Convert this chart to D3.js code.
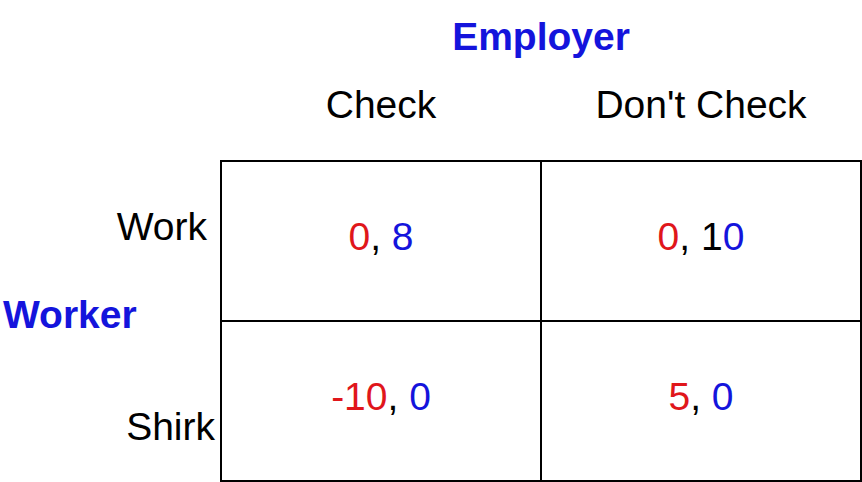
<!DOCTYPE html>
<html>
<head>
<meta charset="utf-8">
<script src="https://cdn.jsdelivr.net/npm/d3@7"></script>
<style>
  body { margin: 0; background: #fff; }
  text { font-family: "Liberation Sans", Arial, Helvetica, sans-serif; }
</style>
</head>
<body>
<script>
// data
var rowPlayer = "Worker",
    colPlayer = "Employer";
var rows = ["Work", "Shirk"];
var cols = ["Check", "Don't Check"];
var workerPay = ["0", "0", "-10", "5"];
var employerPay = ["8", "10", "0", "0"];
// how many trailing digits of the employer payoff are drawn in blue
var bluePart = ["8", "0", "0", "0"];

var width = 862,
    height = 482,
    fontSize = 39,
    red = "#e0161b",
    blue = "#1414dc";

var svg = d3.select("body").append("svg")
    .attr("width", width)
    .attr("height", height);

var x = d3.scaleBand().domain(cols).range([221, 861]);
var y = d3.scaleBand().domain(rows).range([161, 481]);

// grid
var grid = svg.append("g")
    .attr("fill", "none")
    .attr("stroke", "#000")
    .attr("stroke-width", 2);

grid.append("rect")
    .attr("x", x.range()[0])
    .attr("y", y.range()[0])
    .attr("width", x.range()[1] - x.range()[0])
    .attr("height", y.range()[1] - y.range()[0]);

grid.append("line")
    .attr("x1", x(cols[1])).attr("x2", x(cols[1]))
    .attr("y1", y.range()[0]).attr("y2", y.range()[1]);

grid.append("line")
    .attr("x1", x.range()[0]).attr("x2", x.range()[1])
    .attr("y1", y(rows[1])).attr("y2", y(rows[1]));

// player names
svg.append("text")
    .attr("x", (x.range()[0] + x.range()[1]) / 2)
    .attr("y", 50)
    .attr("text-anchor", "middle")
    .attr("font-size", fontSize)
    .attr("font-weight", "bold")
    .attr("fill", blue)
    .text(colPlayer);

svg.append("text")
    .attr("x", 3)
    .attr("y", 328)
    .attr("font-size", fontSize)
    .attr("font-weight", "bold")
    .attr("fill", blue)
    .text(rowPlayer);

// strategy labels
svg.selectAll(".col")
    .data(cols)
    .enter()
    .append("text")
    .attr("class", "col")
    .attr("x", function (d) { return x(d) + x.bandwidth() / 2; })
    .attr("y", 118)
    .attr("text-anchor", "middle")
    .attr("font-size", fontSize)
    .text(function (d) { return d; });

var rowLabelEnd = [207, 215],
    rowLabelY = [240, 440];

svg.selectAll(".row")
    .data(rows)
    .enter()
    .append("text")
    .attr("class", "row")
    .attr("x", function (d, i) { return rowLabelEnd[i]; })
    .attr("y", function (d, i) { return rowLabelY[i]; })
    .attr("text-anchor", "end")
    .attr("font-size", fontSize)
    .text(function (d) { return d; });

// payoffs
var cells = d3.range(4).map(function (i) {
    var e = employerPay[i],
        b = bluePart[i];
    return {
        row: rows[Math.floor(i / 2)],
        col: cols[i % 2],
        parts: [
            { t: workerPay[i], c: red },
            { t: ", " + e.slice(0, e.length - b.length), c: "#000" },
            { t: b, c: blue }
        ]
    };
});

svg.selectAll(".pay")
    .data(cells)
    .enter()
    .append("text")
    .attr("class", "pay")
    .attr("x", function (d) { return x(d.col) + x.bandwidth() / 2; })
    .attr("y", function (d) { return y(d.row) + y.bandwidth() / 2 + 9; })
    .attr("text-anchor", "middle")
    .attr("font-size", fontSize)
    .style("white-space", "pre")
    .selectAll("tspan")
    .data(function (d) { return d.parts; })
    .enter()
    .append("tspan")
    .attr("fill", function (d) { return d.c; })
    .text(function (d) { return d.t; });
</script>
</body>
</html>
